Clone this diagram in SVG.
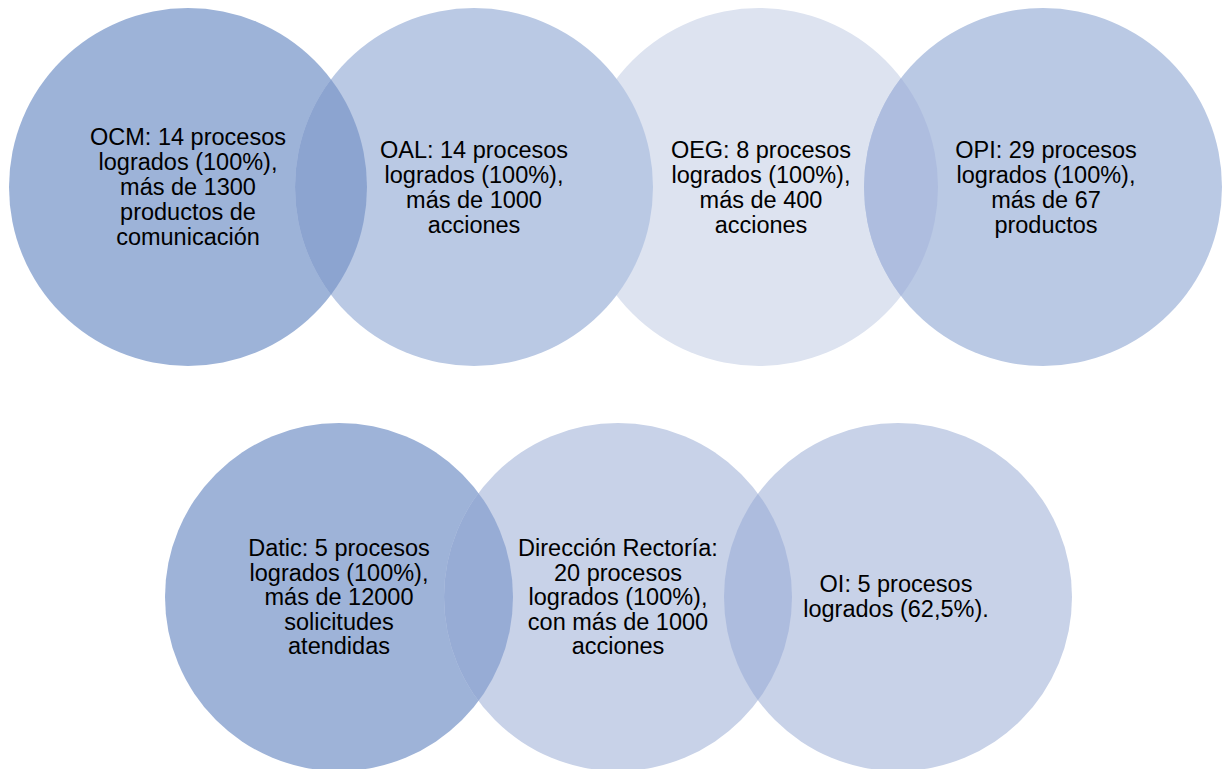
<svg xmlns="http://www.w3.org/2000/svg" width="1223" height="769" viewBox="0 0 1223 769">
<style>
text{font-family:"Liberation Sans",Arial,sans-serif;font-size:23.5px;fill:#000;text-anchor:middle}
</style>
<defs>
<clipPath id="c1"><circle cx="188" cy="187" r="179"/></clipPath>
<clipPath id="c3"><circle cx="759" cy="187" r="179"/></clipPath>
<clipPath id="b1"><circle cx="339" cy="597" r="174"/></clipPath>
<clipPath id="b2"><circle cx="618" cy="597" r="174"/></clipPath>
</defs>
<rect width="1223" height="769" fill="#fff"/>
<g id="ocm"><circle cx="188" cy="187" r="179" fill="#9DB3D8"/></g>
<g id="oeg"><circle cx="759" cy="187" r="179" fill="#DDE3F0"/></g>
<g id="oal"><circle cx="474" cy="187" r="179" fill="#BAC9E4"/></g>
<g id="opi"><circle cx="1043" cy="187" r="179" fill="#BAC9E4"/></g>
<g id="datic"><circle cx="339" cy="597" r="174" fill="#9EB3D8"/></g>
<g id="direccion"><circle cx="618" cy="597" r="174" fill="#C8D2E8"/></g>
<g id="oi"><circle cx="898" cy="597" r="174" fill="#C8D2E8"/></g>
<g id="overlaps">
<circle cx="474" cy="187" r="179" fill="#8CA4D0" clip-path="url(#c1)"/>
<circle cx="1043" cy="187" r="179" fill="#AEBDDF" clip-path="url(#c3)"/>
<circle cx="618" cy="597" r="174" fill="#97ACD5" clip-path="url(#b1)"/>
<circle cx="898" cy="597" r="174" fill="#ADBCDE" clip-path="url(#b2)"/>
</g>
<g id="labels">
<text x="188" y="145"><tspan x="188">OCM: 14 procesos</tspan><tspan x="188" dy="25">logrados (100%),</tspan><tspan x="188" dy="25">más de 1300</tspan><tspan x="188" dy="25">productos de</tspan><tspan x="188" dy="25">comunicación</tspan></text>
<text x="474" y="158"><tspan x="474">OAL: 14 procesos</tspan><tspan x="474" dy="25">logrados (100%),</tspan><tspan x="474" dy="25">más de 1000</tspan><tspan x="474" dy="25">acciones</tspan></text>
<text x="761" y="158"><tspan x="761">OEG: 8 procesos</tspan><tspan x="761" dy="25">logrados (100%),</tspan><tspan x="761" dy="25">más de 400</tspan><tspan x="761" dy="25">acciones</tspan></text>
<text x="1046" y="158"><tspan x="1046">OPI: 29 procesos</tspan><tspan x="1046" dy="25">logrados (100%),</tspan><tspan x="1046" dy="25">más de 67</tspan><tspan x="1046" dy="25">productos</tspan></text>
<text x="339" y="556"><tspan x="339">Datic: 5 procesos</tspan><tspan x="339" dy="24.5">logrados (100%),</tspan><tspan x="339" dy="24.5">más de 12000</tspan><tspan x="339" dy="24.5">solicitudes</tspan><tspan x="339" dy="24.5">atendidas</tspan></text>
<text x="618" y="556"><tspan x="618">Dirección Rectoría:</tspan><tspan x="618" dy="24.5">20 procesos</tspan><tspan x="618" dy="24.5">logrados (100%),</tspan><tspan x="618" dy="24.5">con más de 1000</tspan><tspan x="618" dy="24.5">acciones</tspan></text>
<text x="896" y="592"><tspan x="896">OI: 5 procesos</tspan><tspan x="896" dy="24.5">logrados (62,5%).</tspan></text>
</g>
</svg>
